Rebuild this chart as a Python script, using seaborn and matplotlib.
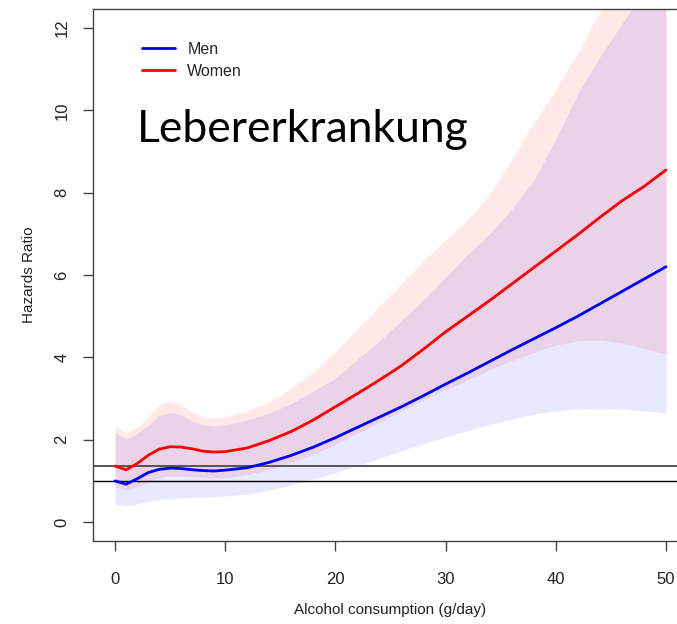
import numpy as np
import pandas as pd
import matplotlib
matplotlib.use("Agg")
import matplotlib.pyplot as plt
import seaborn as sns

# Alcohol intake grid (g/day)
alcohol = [0, 1, 2, 3, 4, 5, 6, 7, 8, 9, 10, 12, 14, 16, 18, 20, 22, 24, 26,
           28, 30, 32, 34, 36, 38, 40, 42, 44, 46, 48, 50]

# Hazard ratio estimates
hr_men = [1.00, 0.92, 1.05, 1.20, 1.28, 1.31, 1.30, 1.27, 1.25, 1.24, 1.26,
          1.32, 1.45, 1.62, 1.82, 2.05, 2.30, 2.55, 2.80, 3.07, 3.35, 3.62,
          3.90, 4.18, 4.45, 4.72, 5.00, 5.30, 5.60, 5.90, 6.20]
hr_women = [1.36, 1.27, 1.42, 1.62, 1.77, 1.83, 1.82, 1.78, 1.72, 1.70, 1.71,
            1.80, 1.98, 2.20, 2.48, 2.80, 3.12, 3.45, 3.80, 4.20, 4.62, 5.00,
            5.38, 5.78, 6.18, 6.58, 6.98, 7.40, 7.80, 8.15, 8.55]

# Confidence bands
men_lower = [0.44, 0.39, 0.44, 0.50, 0.55, 0.57, 0.58, 0.60, 0.61, 0.62, 0.63,
             0.68, 0.77, 0.90, 1.05, 1.20, 1.37, 1.55, 1.73, 1.90, 2.07, 2.22,
             2.37, 2.50, 2.62, 2.70, 2.75, 2.76, 2.75, 2.70, 2.65]
men_upper = [2.17, 2.02, 2.15, 2.35, 2.58, 2.66, 2.60, 2.45, 2.36, 2.33, 2.36,
             2.48, 2.65, 2.88, 3.18, 3.50, 3.95, 4.40, 4.90, 5.40, 5.95, 6.50,
             7.00, 7.60, 8.30, 9.30, 10.40, 11.30, 12.10, 12.90, 13.70]
women_lower = [0.85, 0.78, 0.86, 0.98, 1.08, 1.12, 1.12, 1.10, 1.08, 1.07, 1.08,
               1.15, 1.28, 1.45, 1.65, 1.88, 2.15, 2.42, 2.70, 2.97, 3.22, 3.45,
               3.70, 3.92, 4.12, 4.30, 4.40, 4.42, 4.35, 4.22, 4.08]
women_upper = [2.34, 2.16, 2.30, 2.55, 2.85, 2.94, 2.85, 2.68, 2.55, 2.52, 2.55,
               2.70, 2.92, 3.25, 3.65, 4.15, 4.70, 5.25, 5.80, 6.35, 6.85, 7.35,
               7.95, 8.80, 9.70, 10.50, 11.40, 12.40, 13.50, 14.50, 15.50]

reference_lines = [1.0, 1.37]
x_ticks = [0, 10, 20, 30, 40, 50]
y_ticks = [0, 2, 4, 6, 8, 10, 12]

sns.set_theme(style="white")
plt.rcParams["font.family"] = ["Liberation Sans", "DejaVu Sans"]

df = pd.DataFrame({
    "alcohol": alcohol * 2,
    "hr": hr_men + hr_women,
    "sex": ["Men"] * len(alcohol) + ["Women"] * len(alcohol),
})

fig = plt.figure(figsize=(6.77, 6.24), dpi=100)
ax = fig.add_axes([93 / 677, 83 / 624, 595 / 677, 532 / 624])

ax.fill_between(alcohol, men_lower, men_upper, color=(0, 0, 1), alpha=0.09,
                linewidth=0)
ax.fill_between(alcohol, women_lower, women_upper, color=(1, 0, 0), alpha=0.09,
                linewidth=0)

ax.axhline(reference_lines[0], color="black", lw=1.0)
ax.axhline(reference_lines[1], color="#555555", lw=1.4)

sns.lineplot(data=df, x="alcohol", y="hr", hue="sex",
             palette={"Men": "#0000ff", "Women": "#ff0000"},
             lw=2.0, ax=ax, legend=False)

ax.set_xlim(-2, 52)
ax.set_ylim(-0.46, 12.46)
ax.set_xticks(x_ticks)
ax.set_yticks(y_ticks)
ax.set_xticklabels([str(t) for t in x_ticks], fontsize=12)
ax.set_yticklabels([str(t) for t in y_ticks], fontsize=12, rotation=90,
                   va="center")
ax.tick_params(axis="both", direction="out", length=7, width=1.0,
               color="#444444", labelcolor="#222222", bottom=True, left=True)
ax.tick_params(axis="x", pad=15)
ax.tick_params(axis="y", pad=10)

for side in ["left", "bottom", "top", "right"]:
    ax.spines[side].set_color("#444444")
    ax.spines[side].set_linewidth(1.0)

ax.set_xlabel("Alcohol consumption (g/day)", fontsize=11, color="#222222",
              labelpad=12)
ax.set_ylabel("Hazards Ratio", fontsize=11, color="#222222", labelpad=13)

handles = [plt.Line2D([], [], color="#0000ff", lw=2),
           plt.Line2D([], [], color="#ff0000", lw=2)]
ax.legend(handles, ["Men", "Women"], loc="upper left",
          bbox_to_anchor=(0.058, 0.965), frameon=False, fontsize=11.5,
          handlelength=2.1, handletextpad=0.75, labelspacing=0.42)

ax.text(0.074, 0.75, "Lebererkrankung", transform=ax.transAxes,
        fontsize=32, family=["Lato", "DejaVu Sans"], color="black",
        ha="left", va="baseline")

fig.savefig("out.png", dpi=100)
